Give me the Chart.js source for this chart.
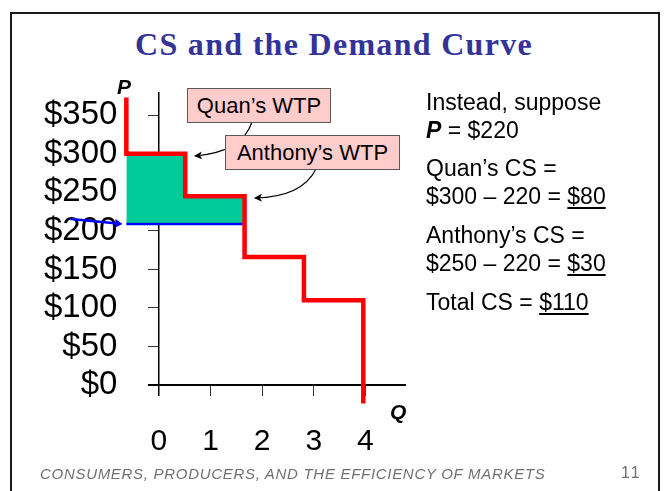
<!DOCTYPE html>
<html>
<head>
<meta charset="utf-8">
<script src="https://cdn.jsdelivr.net/npm/chart.js@4"></script>
<style>
  html, body { margin: 0; padding: 0; background: #fff; }
  #slide { position: relative; width: 665px; height: 491px; overflow: hidden; font-family: "Liberation Sans", Arial, sans-serif; }
  #frame { position: absolute; left: 10px; top: 12px; width: 646px; height: 490px; border: 2px solid #1a1a1a; }
  #chart { position: absolute; left: 0; top: 0; }
  #title { position: absolute; left: 0; width: 668px; top: 26px; text-align: center; font-family: "Liberation Serif", serif; font-weight: bold; font-size: 32px; letter-spacing: 1.3px; color: #333399; }
  .axlab { position: absolute; font-weight: bold; font-style: italic; font-size: 21px; }
  .box { position: absolute; background: #ffcccc; border: 1px solid #595959; box-sizing: border-box; font-size: 22px; text-align: center; }
  .para { position: absolute; left: 426px; font-size: 23px; line-height: 28px; }
  u { text-decoration-thickness: 1.5px; text-underline-offset: 3px; }
  #footer { position: absolute; left: 40px; top: 465px; font-size: 15px; letter-spacing: 0.7px; font-style: italic; color: #707070; }
  #page { position: absolute; left: 621px; top: 464px; font-size: 16px; letter-spacing: 2px; color: #707070; }
  svg { position: absolute; left: 0; top: 0; }
</style>
</head>
<body>
<div id="slide">
  <div id="frame"></div>
  <div id="title">CS and the Demand Curve</div>
  <canvas id="chart" width="665" height="491"></canvas>
  <div class="axlab" style="left:117px; top:75px;">P</div>
  <div class="axlab" style="left:390px; top:400px;">Q</div>

  <svg width="665" height="491">
    <defs>
      <marker id="head" markerWidth="8" markerHeight="8" refX="7" refY="4" orient="auto" markerUnits="userSpaceOnUse">
        <path d="M0,0 L8,4 L0,8 L2,4 Z" fill="#000"/>
      </marker>
    </defs>
    <path d="M252,122 Q242,152 195,156" fill="none" stroke="#000" stroke-width="1.2" marker-end="url(#head)"/>
    <path d="M316,169 Q302,197 255,198" fill="none" stroke="#000" stroke-width="1.2" marker-end="url(#head)"/>
  </svg>
  <div class="box" style="left:187px; top:88px; width:144px; height:35px; line-height:33px;">Quan’s WTP</div>
  <div class="box" style="left:225px; top:135px; width:175px; height:35px; line-height:33px;">Anthony’s WTP</div>

  <div class="para" style="top:88px;">Instead, suppose<br><b><i>P</i></b> = $220</div>
  <div class="para" style="top:154px;">Quan’s CS =<br>$300 – 220 = <u>$80</u></div>
  <div class="para" style="top:221px;">Anthony’s CS =<br>$250 – 220 = <u>$30</u></div>
  <div class="para" style="top:288px;">Total CS = <u>$110</u></div>

  <div id="footer">CONSUMERS, PRODUCERS, AND THE EFFICIENCY OF MARKETS</div>
  <div id="page">11</div>
</div>

<script>
// demand curve: quantity where each step falls, and the price levels
const stepQ = [-0.63, 0.51, 1.66, 2.81, 3.96, 3.96];
const stepP = [373, 300, 245, 166, 110, -24];

// consumer surplus area (top edge) and the price line
const csQ = [-0.63, 0.51, 1.66];
const csP = [300, 245, 245];
const price = 209;
const priceQ = [-0.63, 1.66];

// little blue pointer to the price
const arrowQ = [-1.71, -0.8];
const arrowP = [215.6, 209.5];

const xTicks = [0, 1, 2, 3, 4];
const yTicks = [0, 50, 100, 150, 200, 250, 300, 350];
const xAxisStart = -0.19;

const pts = (xs, ys) => xs.map((x, i) => ({ x: x, y: ys[i] }));

// x axis line only from the $0 tick onwards, the chart area is wider for the fill
const trimAxis = {
  id: 'trimAxis',
  afterLayout(chart) {
    const sx = chart.scales.x;
    sx.left = sx.getPixelForValue(xAxisStart);
  }
};

new Chart(document.getElementById('chart'), {
  type: 'scatter',
  data: {
    datasets: [
      {
        data: pts(stepQ, stepP),
        showLine: true,
        stepped: 'after',
        borderColor: '#ff0000',
        borderWidth: 4.5,
        borderJoinStyle: 'miter',
        pointRadius: 0,
        clip: false
      },
      {
        data: pts(priceQ, [price, price]),
        showLine: true,
        borderColor: '#0000ff',
        borderWidth: 2.5,
        pointRadius: 0,
        clip: false
      },
      {
        data: pts(arrowQ, arrowP),
        showLine: true,
        borderColor: '#0000ff',
        borderWidth: 2.5,
        pointRadius: [0, 5],
        pointStyle: 'triangle',
        rotation: 96,
        pointBackgroundColor: '#0000ff',
        pointBorderWidth: 0,
        clip: false
      },
      {
        data: pts(csQ, csP),
        showLine: true,
        stepped: 'before',
        borderWidth: 0,
        backgroundColor: '#00cc99',
        fill: { value: price },
        pointRadius: 0,
        clip: false
      }
    ]
  },
  plugins: [trimAxis],
  options: {
    responsive: false,
    animation: false,
    devicePixelRatio: 1,
    layout: { padding: { left: 41, top: 93, right: 260, bottom: 96 } },
    plugins: { legend: { display: false }, tooltip: { enabled: false } },
    scales: {
      x: {
        type: 'linear',
        min: -0.745,
        max: 4.768,
        position: { y: 0 },
        afterBuildTicks: s => { s.ticks = xTicks.map(v => ({ value: v })); },
        grid: { drawOnChartArea: false, tickLength: 10, color: '#333' },
        border: { color: '#000', width: 2 },
        ticks: { color: '#000', font: { family: 'Liberation Sans', size: 30 }, padding: 29, maxRotation: 0 }
      },
      y: {
        type: 'linear',
        min: -13,
        max: 379,
        position: { x: 0 },
        afterBuildTicks: s => { s.ticks = yTicks.map(v => ({ value: v })); },
        grid: { drawOnChartArea: false, tickLength: 10, color: '#333' },
        border: { color: '#000', width: 1.5 },
        ticks: { display: false }
      },
      yl: {
        type: 'linear',
        min: -13,
        max: 379,
        position: 'left',
        afterBuildTicks: s => { s.ticks = yTicks.map(v => ({ value: v })); },
        grid: { display: false, drawTicks: false },
        border: { display: false },
        ticks: {
          color: '#000',
          font: { family: 'Liberation Sans', size: 33 },
          padding: 3,
          callback: v => '$' + v
        }
      }
    }
  }
});
</script>
</body>
</html>
